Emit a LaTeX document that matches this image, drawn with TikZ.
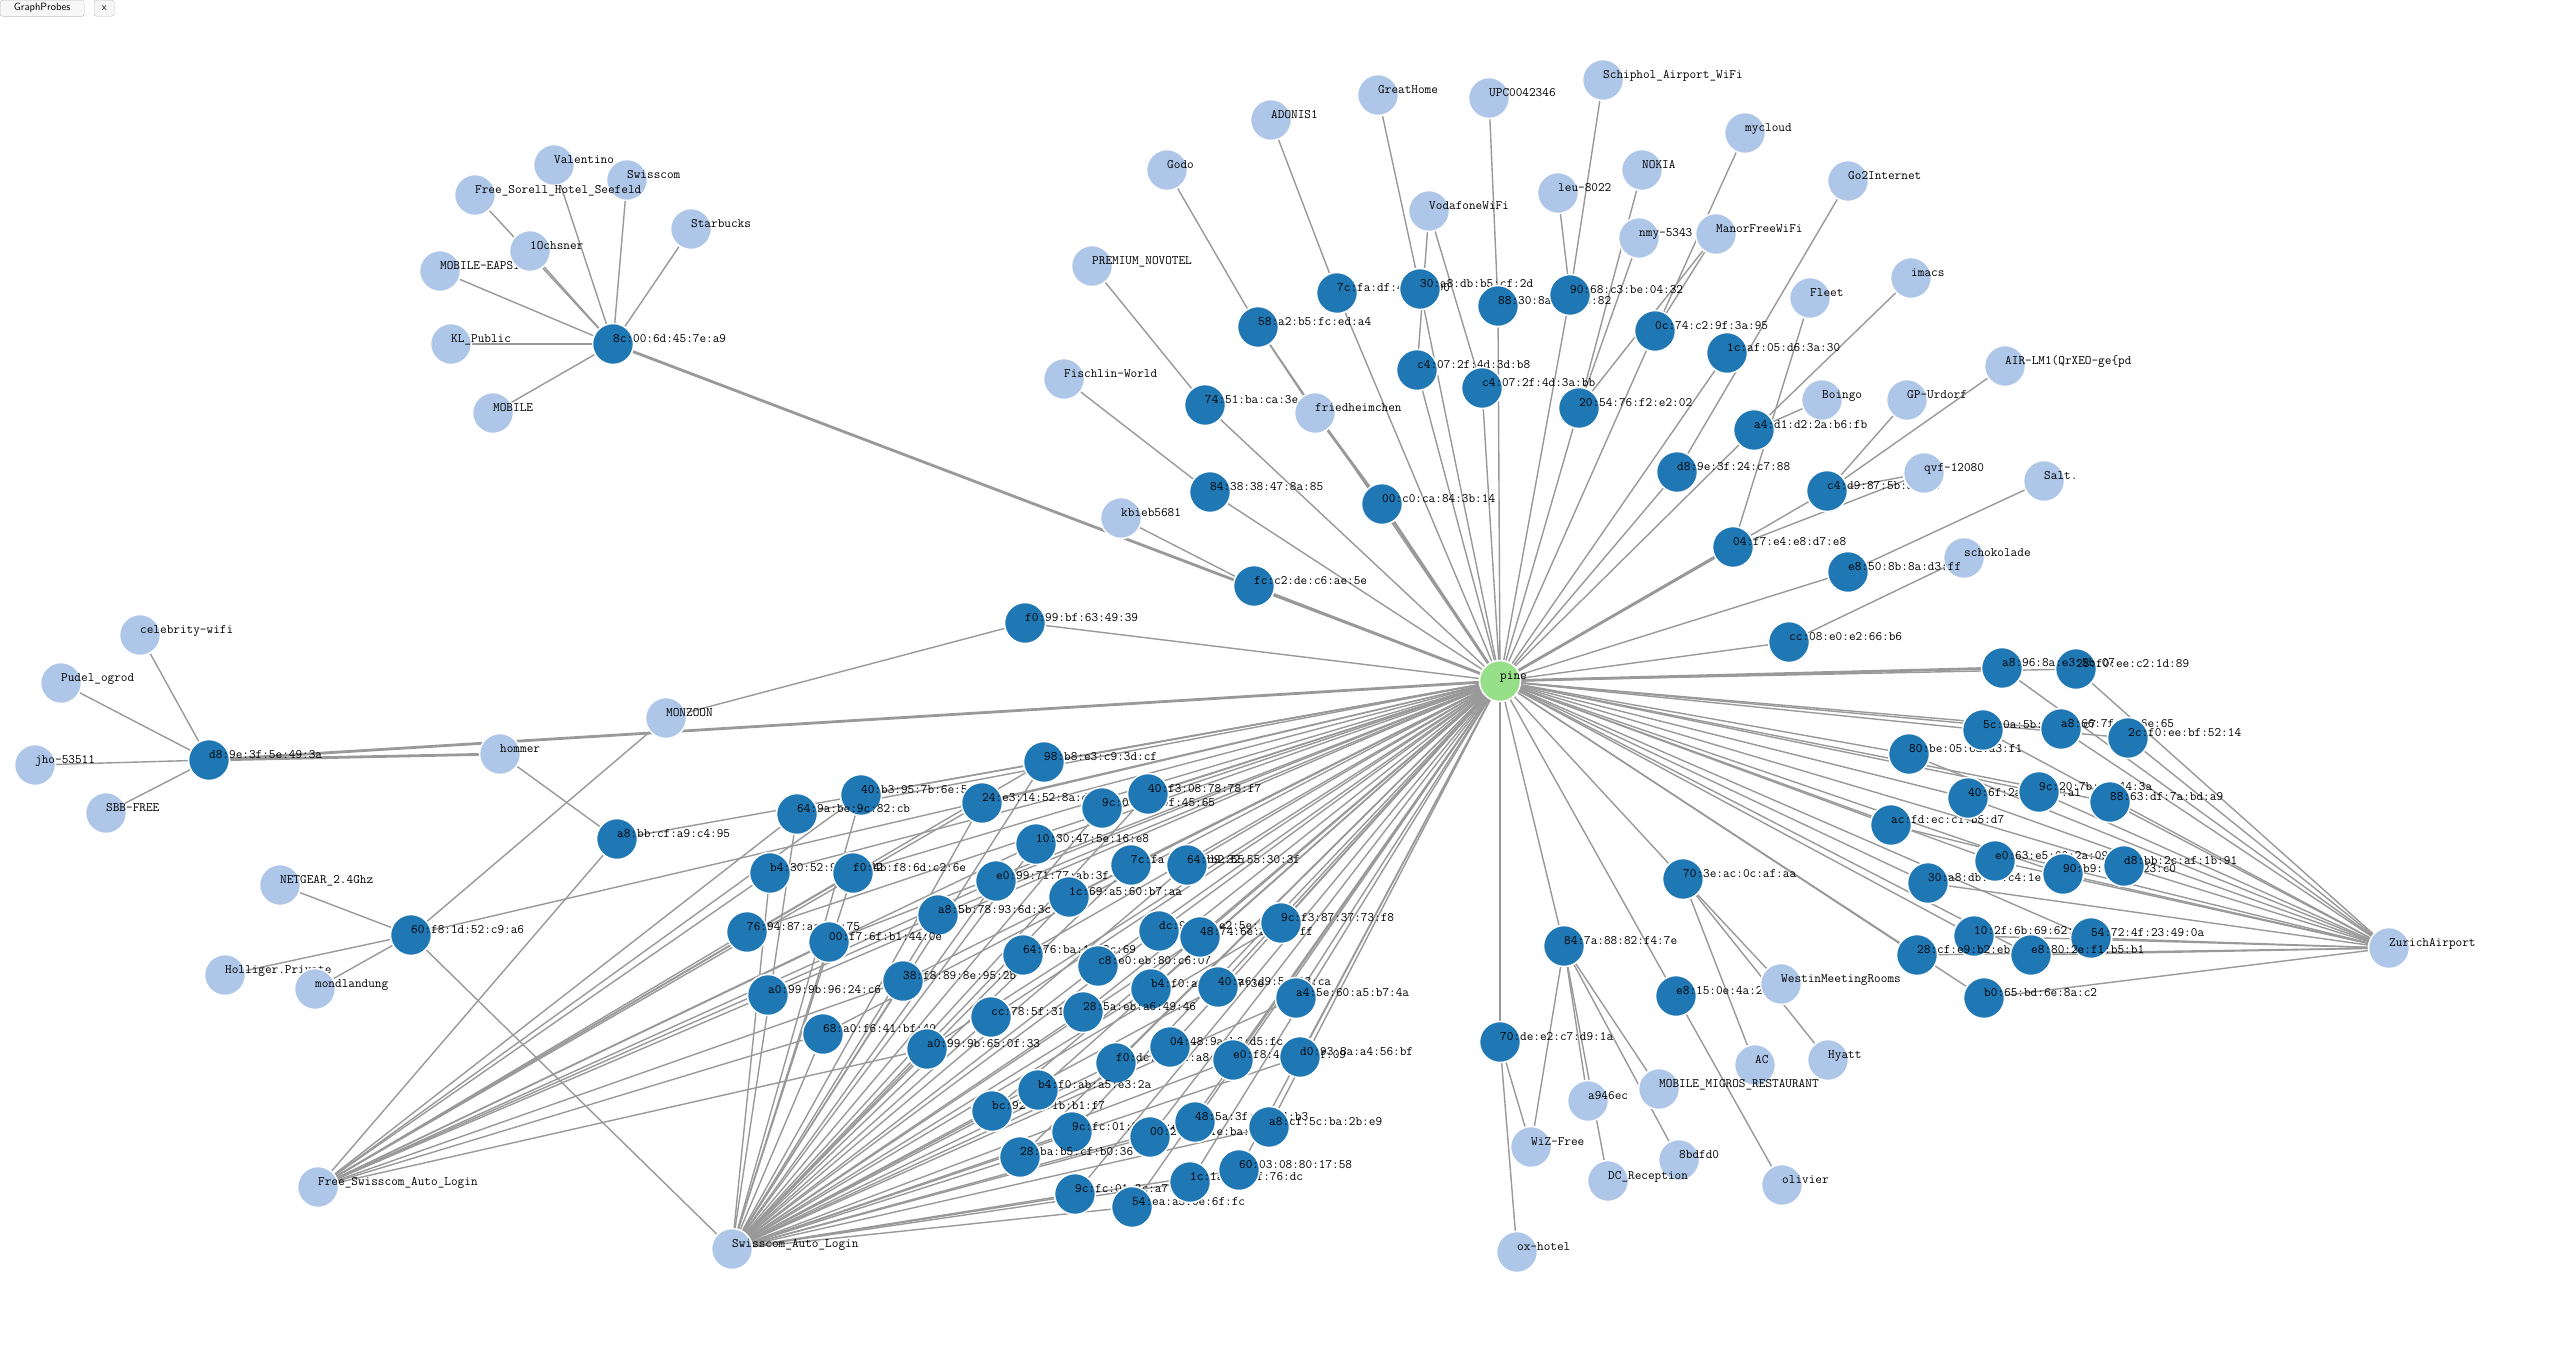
\documentclass[tikz,border=0pt]{standalone}
\usetikzlibrary{backgrounds}

\definecolor{macblue}{HTML}{1F77B4}
\definecolor{ssidblue}{HTML}{AEC7E8}
\definecolor{hubgreen}{HTML}{98DF8A}
\definecolor{linkgrey}{HTML}{999999}

\tikzset{
  probe/.style={circle, draw=white, line width=1.5pt, minimum size=41pt, inner sep=0pt},
  mac/.style={probe, fill=macblue},
  ssid/.style={probe, fill=ssidblue},
  hub/.style={probe, fill=hubgreen},
  tag/.style={font=\ttfamily\fontsize{12.9}{14}\selectfont, inner sep=0pt, anchor=base west},
  link/.style={draw=linkgrey, line width=1.4pt},
  heavy/.style={draw=linkgrey, line width=2.8pt},
  button/.style={draw=black!25, fill=black!3, rounded corners=2.5pt, inner xsep=0pt,
    minimum height=16pt, font=\sffamily\fontsize{10.5}{12}\selectfont, anchor=north west}
}

% name, x, y, text
\newcommand{\mac}[4]{
  \node[mac] (#1) at (#2,#3) {};
  \node[tag] (#1-t) at ([yshift=2pt]#1.center) {#4};
}
\newcommand{\ssid}[4]{
  \node[ssid] (#1) at (#2,#3) {};
  \node[tag] (#1-t) at ([yshift=2pt]#1.center) {#4};
}
% style, probe, list of macs
\newcommand{\links}[3]{
  \foreach \dev in {#3} \draw[#1] (#2) -- (\dev);
}

\begin{document}
\begin{tikzpicture}[x=1pt, y=-1pt]
  \useasboundingbox (0,0) rectangle (2559,1363);

  \node[button, minimum width=84pt] (probes) at (0,0) {GraphProbes};
  \node[button, minimum width=20pt] (close) at (94,0) {x};

  % top left
  \ssid{swisscom}{627}{180}{Swisscom}
  \ssid{valentino}{554}{165}{Valentino}
  \ssid{sorell}{475}{195}{Free\_Sorell\_Hotel\_Seefeld}
  \ssid{eapsim}{440}{271}{MOBILE-EAPSIM}
  \ssid{ochsner}{530}{251}{1Ochsner}
  \ssid{klpublic}{451}{344}{KL\_Public}
  \ssid{mobile}{493}{413}{MOBILE}
  \ssid{starbucks}{691}{229}{Starbucks}
  \mac{m8c00}{613}{344}{8c:00:6d:45:7e:a9}

  % top
  \ssid{godo}{1167}{170}{Godo}
  \ssid{adonis}{1271}{120}{ADONIS1}
  \ssid{novotel}{1092}{266}{PREMIUM\_NOVOTEL}
  \ssid{fischlin}{1064}{379}{Fischlin-World}
  \ssid{greathome}{1378}{95}{GreatHome}
  \ssid{upc}{1489}{98}{UPC0042346}
  \ssid{schiphol}{1603}{80}{Schiphol\_Airport\_WiFi}
  \ssid{mycloud}{1745}{133}{mycloud}
  \ssid{nokia}{1642}{170}{NOKIA}
  \ssid{go2}{1848}{181}{Go2Internet}
  \ssid{leu}{1558}{193}{leu-8022}
  \ssid{vodafone}{1429}{211}{VodafoneWiFi}
  \ssid{nmy}{1639}{238}{nmy-5343}
  \ssid{manor}{1716}{234}{ManorFreeWiFi}
  \ssid{imacs}{1911}{278}{imacs}
  \ssid{fleet}{1810}{298}{Fleet}
  \ssid{boingo}{1822}{400}{Boingo}
  \ssid{urdorf}{1907}{400}{GP-Urdorf}
  \ssid{airlm}{2005}{366}{AIR-LM1(QrXEO-ge\{pd}
  \mac{m58a2}{1258}{327}{58:a2:b5:fc:ed:a4}
  \mac{m7451}{1205}{405}{74:51:ba:ca:3e:c4}
  \ssid{friedheimchen}{1315}{413}{friedheimchen}
  \mac{m8438}{1210}{492}{84:38:38:47:8a:85}
  \ssid{kbieb}{1121}{518}{kbieb5681}
  \mac{mfcc2}{1254}{586}{fc:c2:de:c6:ae:5e}
  \mac{mf099}{1025}{623}{f0:99:bf:63:49:39}
  \mac{m7cfa}{1337}{293}{7c:fa:df:4e:1b:90}
  \mac{m30a8}{1420}{289}{30:a8:db:b5:cf:2d}
  \mac{m8830}{1498}{306}{88:30:8a:2c:7e:82}
  \mac{m9068}{1570}{295}{90:68:c3:be:04:32}
  \mac{m0c74}{1655}{331}{0c:74:c2:9f:3a:95}
  \mac{m1caf}{1727}{353}{1c:af:05:d6:3a:30}
  \mac{mc4b8}{1417}{370}{c4:07:2f:4d:3d:b8}
  \mac{mc4bb}{1482}{388}{c4:07:2f:4d:3a:bb}
  \mac{m2054}{1579}{408}{20:54:76:f2:e2:02}
  \mac{ma4d1}{1754}{430}{a4:d1:d2:2a:b6:fb}
  \mac{m00c0}{1382}{504}{00:c0:ca:84:3b:14}
  \mac{md89e}{1677}{472}{d8:9e:3f:24:c7:88}
  \mac{mc4d9}{1827}{491}{c4:d9:87:5b:a2:1e}
  \ssid{qvf}{1924}{473}{qvf-12080}
  \ssid{salt}{2044}{481}{Salt.}
  \ssid{schokolade}{1964}{558}{schokolade}
  \mac{m04f7}{1733}{547}{04:f7:e4:e8:d7:e8}
  \mac{me850}{1848}{572}{e8:50:8b:8a:d3:ff}
  \mac{mcc08}{1789}{642}{cc:08:e0:e2:66:b6}

  % left
  \ssid{celebrity}{140}{635}{celebrity-wifi}
  \ssid{pudel}{61}{683}{Pudel\_ogrod}
  \ssid{jho}{35}{765}{jho-53511}
  \ssid{sbb}{106}{813}{SBB-FREE}
  \mac{md83a}{209}{760}{d8:9e:3f:5e:49:3a}
  \ssid{hommer}{500}{754}{hommer}
  \mac{ma8bb}{617}{839}{a8:bb:cf:a9:c4:95}
  \ssid{monzoon}{666}{718}{MONZOON}
  \ssid{netgear}{280}{885}{NETGEAR\_2.4Ghz}
  \ssid{holliger}{225}{975}{Holliger.Private}
  \ssid{mondlandung}{315}{989}{mondlandung}
  \mac{m60f8}{411}{935}{60:f8:1d:52:c9:a6}
  \ssid{freeswiss}{318}{1187}{Free\_Swisscom\_Auto\_Login}
  \ssid{swissauto}{732}{1249}{Swisscom\_Auto\_Login}

  % middle
  \mac{m98b8}{1044}{762}{98:b8:e3:c9:3d:cf}
  \mac{m40b3}{861}{795}{40:b3:95:7b:6e:5c}
  \mac{m649a}{797}{814}{64:9a:be:9c:82:cb}
  \mac{m24e3}{982}{803}{24:e3:14:52:8a:d2}
  \mac{m9c04}{1102}{808}{9c:04:eb:0f:45:65}
  \mac{m40f3}{1148}{794}{40:f3:08:78:78:f7}
  \mac{m1030}{1036}{844}{10:30:47:5e:16:e8}
  \mac{mb430}{770}{873}{b4:30:52:90:9d:42}
  \mac{mf04b}{853}{873}{f0:4b:f8:6d:c2:6e}
  \mac{me099}{996}{881}{e0:99:71:77:ab:3f}
  \mac{m7cfb}{1131}{865}{7c:fa:d5:e2:b2:55}
  \mac{m64b9}{1187}{865}{64:b9:32:55:30:3f}
  \mac{m1c69}{1069}{897}{1c:69:a5:60:b7:aa}
  \mac{ma85b}{938}{915}{a8:5b:78:93:6d:3c}
  \mac{m7694}{747}{932}{76:94:87:aa:7e:75}
  \mac{m00f7}{829}{942}{00:f7:6f:b1:44:0e}
  \mac{m6476}{1023}{955}{64:76:ba:1d:2c:69}
  \mac{mc8e0}{1098}{966}{c8:e0:eb:80:c6:07}
  \mac{ma096}{768}{995}{a0:99:9b:96:24:c6}
  \mac{m38f8}{903}{981}{38:f8:89:8e:95:2b}
  \mac{mdc9b}{1159}{931}{dc:9b:9c:e2:5e:f7}
  \mac{m4874}{1200}{937}{48:74:6e:a2:13:ff}
  \mac{m9cf3}{1281}{923}{9c:f3:87:37:73:f8}
  \mac{mb4f0}{1151}{989}{b4:f0:a9:41:c7:3e}
  \mac{m40a6}{1218}{987}{40:a6:d9:5e:08:ca}
  \mac{ma45e}{1296}{998}{a4:5e:60:a5:b7:4a}
  \mac{mcc78}{991}{1017}{cc:78:5f:31:a0:e4}
  \mac{m285a}{1083}{1012}{28:5a:eb:a6:49:46}
  \mac{m68a0}{823}{1034}{68:a0:f6:41:bf:40}
  \mac{ma065}{927}{1049}{a0:99:9b:65:0f:33}
  \mac{mf0dc}{1116}{1063}{f0:dc:e2:71:a8:0b}
  \mac{m0448}{1170}{1047}{04:48:9a:b6:d5:fc}
  \mac{me0f8}{1233}{1060}{e0:f8:47:6b:8f:09}
  \mac{md093}{1300}{1057}{d0:93:8a:a4:56:bf}
  \mac{mbc92}{992}{1111}{bc:92:c1:1b:b1:f7}
  \mac{mb4ab}{1038}{1090}{b4:f0:ab:a5:e3:2a}
  \mac{m9c2d}{1072}{1132}{9c:fc:01:2d:06:e5}
  \mac{m00ba}{1150}{1137}{00:26:bb:1e:ba:4f}
  \mac{m485a}{1195}{1122}{48:5a:3f:57:34:b3}
  \mac{ma8cf}{1269}{1127}{a8:cf:5c:ba:2b:e9}
  \mac{m28ba}{1020}{1157}{28:ba:b5:cf:b0:36}
  \mac{m9c3c}{1075}{1194}{9c:fc:01:3c:a7:1d}
  \mac{m54ea}{1132}{1207}{54:ea:a5:0e:6f:fc}
  \mac{m1c1a}{1190}{1182}{1c:1a:b2:9f:76:dc}
  \mac{m6003}{1239}{1170}{60:03:08:80:17:58}

  % right
  \mac{m80be}{1909}{754}{80:be:05:6d:a3:f1}
  \mac{m5c0a}{1983}{730}{5c:0a:5b:e4:19:c7}
  \mac{ma866}{2061}{729}{a8:66:7f:d5:6e:65}
  \mac{m2cf0}{2128}{738}{2c:f0:ee:bf:52:14}
  \mac{m28f0}{2076}{669}{28:f0:ee:c2:1d:89}
  \mac{ma896}{2002}{668}{a8:96:8a:e3:5b:07}
  \mac{macfd}{1891}{825}{ac:fd:ec:c1:b5:d7}
  \mac{m406f}{1968}{798}{40:6f:2a:dc:e9:a1}
  \mac{m9c20}{2039}{792}{9c:20:7b:e1:44:3a}
  \mac{m8863}{2110}{802}{88:63:df:7a:bd:a9}
  \mac{m30db}{1928}{883}{30:a8:db:9f:c4:1e}
  \mac{me063}{1995}{861}{e0:63:e5:00:2a:09}
  \mac{m90b9}{2063}{874}{90:b9:31:36:23:c0}
  \mac{md8bb}{2124}{866}{d8:bb:2c:af:1b:91}
  \mac{m703e}{1683}{879}{70:3e:ac:0c:af:aa}
  \mac{m102f}{1974}{936}{10:2f:6b:69:62:9f}
  \mac{m5472}{2091}{938}{54:72:4f:23:49:0a}
  \mac{m28cf}{1917}{955}{28:cf:e9:b2:eb:e4}
  \mac{me880}{2031}{955}{e8:80:2e:f1:b5:b1}
  \mac{mb065}{1984}{998}{b0:65:bd:6e:8a:c2}
  \ssid{zurich}{2389}{948}{ZurichAirport}

  % bottom right
  \mac{m847a}{1564}{946}{84:7a:88:82:f4:7e}
  \mac{m70de}{1500}{1042}{70:de:e2:c7:d9:1a}
  \mac{me815}{1676}{996}{e8:15:0e:4a:29:9c}
  \ssid{westin}{1781}{984}{WestinMeetingRooms}
  \ssid{ac}{1755}{1065}{AC}
  \ssid{hyatt}{1828}{1060}{Hyatt}
  \ssid{migros}{1659}{1089}{MOBILE\_MIGROS\_RESTAURANT}
  \ssid{a946ec}{1588}{1101}{a946ec}
  \ssid{wiz}{1531}{1147}{WiZ-Free}
  \ssid{bdfd}{1679}{1160}{8bdfd0}
  \ssid{dcrec}{1608}{1181}{DC\_Reception}
  \ssid{olivier}{1782}{1185}{olivier}
  \ssid{oxhotel}{1517}{1252}{ox-hotel}

  \node[hub] (pine) at (1500,681) {};
  \node[tag] (pine-t) at ([yshift=2pt]pine.center) {pine};

  \begin{scope}[on background layer]
    \fill[white] (0,0) rectangle (2559,1363);
    \links{heavy}{pine}{m8c00,m00c0,m04f7,md83a,ma896}
    \links{link}{pine}{m58a2,m7451,m8438,mfcc2,mf099,m7cfa,m30a8,m8830,m9068,
      m0c74,m1caf,mc4b8,mc4bb,m2054,ma4d1,md89e,mc4d9,me850,mcc08,ma8bb,m60f8,
      m847a,m70de,me815,m703e}
    \links{link}{pine}{m98b8,m40b3,m649a,m24e3,m9c04,m40f3,m1030,mb430,mf04b,
      me099,m7cfb,m64b9,m1c69,ma85b,m7694,m00f7,m6476,mc8e0,ma096,m38f8,mdc9b,
      m4874,m9cf3,mb4f0,m40a6,ma45e,mcc78,m285a,m68a0,ma065,mf0dc,m0448,me0f8,
      md093,mbc92,mb4ab,m9c2d,m00ba,m485a,ma8cf,m28ba,m9c3c,m54ea,m1c1a,m6003}
    \links{link}{pine}{m80be,m5c0a,ma866,m2cf0,m28f0,macfd,m406f,m9c20,m8863,
      m30db,me063,m90b9,md8bb,m102f,m5472,m28cf,me880,mb065}
    \links{link}{zurich}{ma896,m28f0,m5c0a,ma866,m2cf0,m80be,macfd,m406f,m9c20,
      m8863,m30db,me063,m90b9,md8bb,m102f,m5472,m28cf,me880,mb065}
    \links{link}{freeswiss}{ma8bb,mb430,m649a,m40b3,m7694,mf04b,m98b8,m00f7,
      ma096,m24e3,m38f8,m68a0,me099,ma065,m1030,ma85b}
    \links{link}{swissauto}{m60f8,mb430,m649a,m40b3,m98b8,m24e3,m9c04,m40f3,
      m1030,mf04b,me099,m7cfb,m64b9,m1c69,ma85b,m00f7,m6476,mc8e0,m38f8,mdc9b,
      m4874,m9cf3,mb4f0,m40a6,ma45e,m285a,mcc78,ma065,m0448,me0f8,md093,mf0dc,
      mb4ab,mbc92,m9c2d,m00ba,m485a,ma8cf,m28ba,m6003,m1c1a,m9c3c,m54ea,m68a0}
    \links{link}{m8c00}{valentino,swisscom,sorell,ochsner,eapsim,klpublic,
      mobile,starbucks}
    \links{link}{m58a2}{godo,friedheimchen}
    \links{heavy}{m00c0}{friedheimchen}
    \links{link}{m7451}{novotel}
    \links{link}{m8438}{fischlin}
    \links{link}{mfcc2}{kbieb}
    \links{link}{mf099}{monzoon}
    \links{link}{m7cfa}{adonis}
    \links{link}{m30a8}{greathome}
    \links{link}{mc4b8}{vodafone}
    \links{link}{mc4bb}{vodafone}
    \links{link}{m8830}{upc}
    \links{link}{m9068}{schiphol,leu}
    \links{link}{m2054}{nokia,nmy,manor}
    \links{link}{m0c74}{mycloud,manor}
    \links{link}{m847a}{wiz,a946ec,dcrec,migros,bdfd}
    \links{link}{md89e}{go2}
    \links{link}{m04f7}{fleet,qvf}
    \links{link}{ma4d1}{imacs,boingo}
    \links{link}{mc4d9}{urdorf,airlm,qvf}
    \links{link}{me850}{salt}
    \links{link}{mcc08}{schokolade}
    \links{link}{md83a}{celebrity,pudel,jho,sbb}
    \links{heavy}{md83a}{hommer}
    \links{link}{ma8bb}{hommer}
    \links{link}{m60f8}{monzoon,netgear,holliger,mondlandung}
    \links{link}{m70de}{wiz,oxhotel}
    \links{link}{me815}{olivier}
    \links{link}{m703e}{westin,ac,hyatt}
  \end{scope}
\end{tikzpicture}
\end{document}
